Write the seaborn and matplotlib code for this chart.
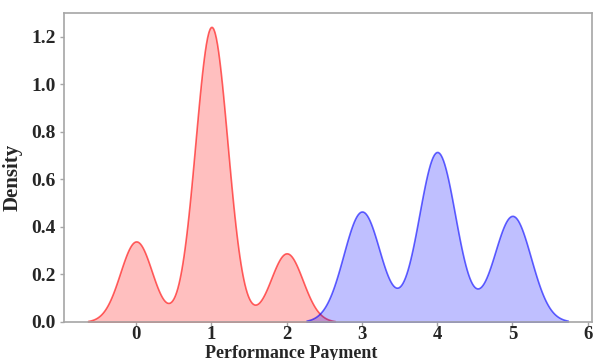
import numpy as np
import pandas as pd
import seaborn as sns
import matplotlib
matplotlib.use("Agg")
import matplotlib.pyplot as plt

# Performance payment levels and how many cases fall on each level
low_levels = [0, 1, 2]
low_counts = [27, 99, 23]
high_levels = [3, 4, 5]
high_counts = [76, 117, 73]

x_ticks = [0, 1, 2, 3, 4, 5, 6]
y_ticks = [0.0, 0.2, 0.4, 0.6, 0.8, 1.0, 1.2]

low = pd.DataFrame({"payment": np.repeat(low_levels, low_counts)})
high = pd.DataFrame({"payment": np.repeat(high_levels, high_counts)})

sns.set_style("white")
plt.rcParams["font.family"] = ["Liberation Serif", "DejaVu Serif"]

fig = plt.figure(figsize=(5.93, 3.60), dpi=100)
ax = fig.add_axes([0.108, 0.106, 0.890, 0.858])

sns.kdeplot(data=low, x="payment", fill=True, color="red", alpha=0.25,
            linewidth=1.2, ax=ax)
sns.kdeplot(data=high, x="payment", fill=True, color="blue", alpha=0.25,
            linewidth=1.2, ax=ax)
for poly in ax.collections:
    ec = poly.get_edgecolor()
    if len(ec):
        c = ec[0].copy()
        c[3] = 0.6
        poly.set_edgecolor(c)

ax.set_ylim(0, 1.30)
ax.set_xticks(x_ticks)
ax.set_yticks(y_ticks)
ax.set_xticklabels([str(t) for t in x_ticks], fontsize=13.5, fontweight="bold")
ax.set_yticklabels([f"{t:.1f}" for t in y_ticks], fontsize=14, fontweight="bold")
ax.set_xlabel("Performance Payment", fontsize=13, fontweight="bold",
              va="top", ha="center")
ax.set_ylabel("Density", fontsize=15, fontweight="bold",
              va="bottom", ha="center")
ax.xaxis.set_label_coords(0.43, -0.074)
ax.yaxis.set_label_coords(-0.078, 0.469)

for s in ax.spines.values():
    s.set_color("#a6a6a6")
    s.set_linewidth(1.2)
ax.tick_params(axis="both", which="both", direction="out", length=3,
               color="#a6a6a6", width=1, bottom=True, left=True)
ax.tick_params(axis="x", pad=0)
ax.tick_params(axis="y", pad=3)

fig.savefig("out.png", dpi=100)
